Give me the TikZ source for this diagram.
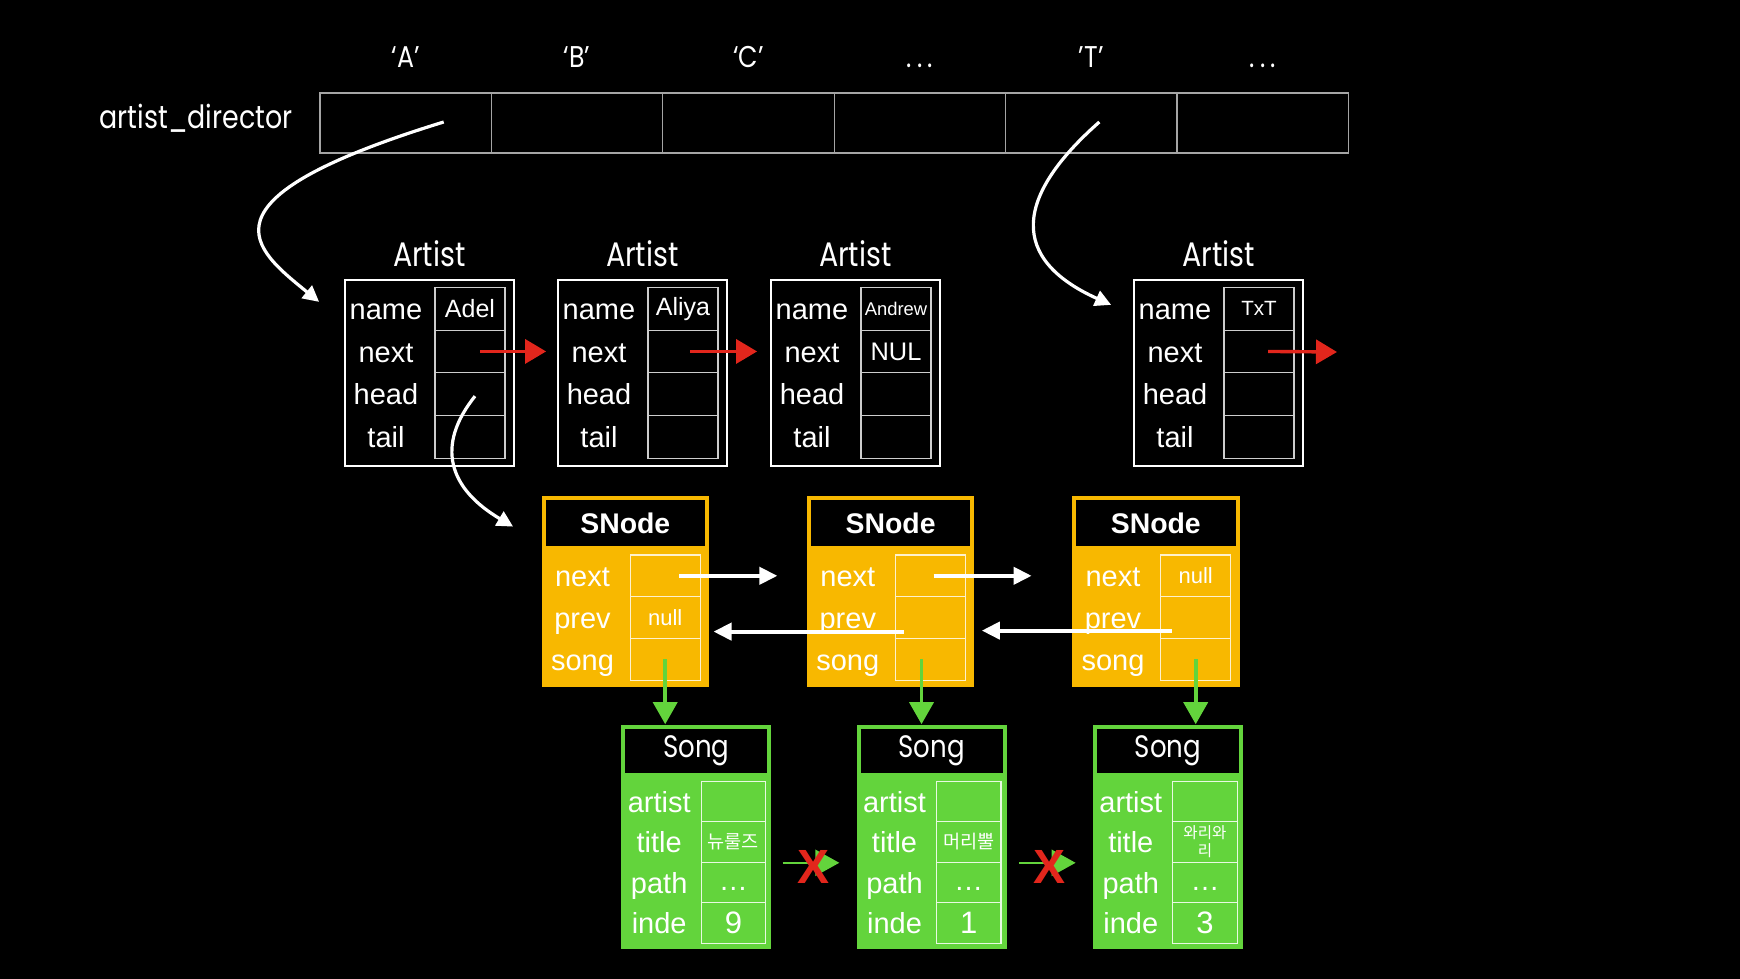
\documentclass[tikz,border=0pt]{standalone}
\usepackage{fontspec}
\setmainfont{Liberation Sans}
\newfontfamily\roundfont[FakeStretch=0.84]{Poppins}
\newfontfamily\korfont{Noto Sans CJK KR}
\usetikzlibrary{arrows.meta,calc}
\definecolor{snyellow}{RGB}{248,184,0}
\definecolor{songgreen}{RGB}{99,212,60}
\definecolor{linkred}{RGB}{226,38,28}
\definecolor{arrgrey}{RGB}{165,165,165}
\definecolor{fieldgrey}{RGB}{205,205,205}

\begin{document}
\begin{tikzpicture}[x=0.5pt,y=-0.5pt,
  acell/.style={draw=arrgrey, line width=0.6pt, minimum width=85.7pt, minimum height=30pt, inner sep=0pt},
  idx/.style={text=white, anchor=base, inner sep=0pt, font=\roundfont\fontsize{15}{15}\selectfont},
  abox/.style={draw=white, line width=0.9pt, minimum width=84.4pt, minimum height=93.25pt, inner sep=0pt},
  afield/.style={draw=fieldgrey, line width=0.6pt, minimum width=35pt, minimum height=21.35pt, inner sep=0pt},
  atitle/.style={text=white, anchor=base, inner sep=0pt, font=\roundfont\fontsize{17}{17}\selectfont},
  flabel/.style={text=white, inner sep=0pt, text height=13.8pt, text depth=3pt, font=\fontsize{14.5}{15}\selectfont},
  fval/.style={text=white, inner sep=0pt},
  snbox/.style={fill=snyellow, minimum width=83.8pt, minimum height=95.45pt, inner sep=0pt},
  sntitle/.style={fill=black, text=white, minimum width=79.8pt, minimum height=23pt, inner sep=0pt, font=\bfseries\fontsize{14.2}{15}\selectfont},
  snfield/.style={draw=white!80!snyellow, line width=0.6pt, minimum width=35pt, minimum height=20.9pt, inner sep=0pt},
  songbox/.style={fill=songgreen, minimum width=74.9pt, minimum height=112.1pt, inner sep=0pt},
  songtitle/.style={fill=black, text=white, minimum width=70.9pt, minimum height=22.45pt, inner sep=0pt, font=\roundfont\fontsize{15.5}{16}\selectfont},
  songfield/.style={draw=white!85!songgreen, line width=0.6pt, minimum width=32.2pt, minimum height=20.25pt, inner sep=0pt},
  kval/.style={text=white, inner sep=0pt, font=\korfont\fontsize{9.3}{10}\selectfont},
  redlink/.style={draw=linkred, line width=1.7pt, -{Triangle[length=10.5pt,width=12pt]}},
  wcurve/.style={draw=white, line width=1.6pt, -{Triangle[length=8pt,width=8pt]}},
  warrow/.style={draw=white, line width=2pt, -{Triangle[length=9pt,width=8.5pt]}},
  garrow/.style={draw=songgreen, line width=1.8pt, -{Triangle[length=11pt,width=12pt]}},
  gsmall/.style={draw=songgreen, line width=1.2pt, -{Triangle[length=12pt,width=13pt]}},
  cross/.style={text=linkred, inner sep=0pt, font=\bfseries\fontsize{24}{24}\selectfont}
]
\fill[black] (0,0) rectangle (1740,979);

% hash table
\node[text=white, anchor=base east, inner sep=0pt, font=\roundfont\fontsize{16}{16}\selectfont] (dirlabel) at (293,129) {artist\_director};
\foreach \lab [count=\i from 0] in {‘A’,‘B’,‘C’,{.\,.\,.},’T’,{.\,.\,.}} {
  \node[acell] (cell\i) at ({405.7+171.4*\i},123) {};
  \node[idx] (idx\i) at ({405.7+171.4*\i},68) {\lab};
}

% artists
\foreach \k/\bx in {1/345, 2/558, 3/771, 4/1134} {
  \node[abox] (art\k) at ({\bx+84.4},373) {};
  \node[atitle] (artt\k) at ({\bx+84.4},266) {Artist};
  \foreach \fname [count=\r from 0] in {name,next,head,tail} {
    \node[afield] (art\k-\r) at ({\bx+125},{308.75+42.7*\r}) {};
    \node[flabel] at ({\bx+41},{308.75+42.7*\r}) {\fname};
  }
}
\node[fval, font=\fontsize{12.5}{13}\selectfont] at (art1-0) {Adel};
\node[fval, font=\fontsize{12.5}{13}\selectfont] at (art2-0) {Aliya};
\node[fval, font=\fontsize{9.2}{10}\selectfont] at (art3-0) {Andrew};
\node[fval, font=\fontsize{12.7}{13}\selectfont] at (art3-1) {NUL};
\node[fval, font=\fontsize{10.3}{11}\selectfont] at (art4-0) {TxT};
\coordinate (art4out) at (1337,352);

\draw[redlink] ($(art1-1.center)+(10,0)$) -- ($(art2.west |- art1-1.center)+(-11,0)$);
\draw[redlink] ($(art2-1.center)+(7,0)$) -- ($(art3.west |- art2-1.center)+(-13,0)$);
\draw[redlink] ($(art4-1.center)+(9,0)$) -- (art4out);

\draw[wcurve] ($(cell0.center)+(38,-1)$) .. controls +(-254,78) and +(-65,-53) .. ($(art1.north west)+(-25,23)$);
\draw[wcurve] ($(cell4.center)+(8,-1)$) .. controls +(-85,75) and +(-102,-46) .. ($(art4.north west)+(-22,26)$);

% song nodes
\foreach \k/\bx in {1/541.5, 2/806.8, 3/1072} {
  \node[snbox] (sn\k) at ({\bx+83.8},591.45) {};
  \node[sntitle] (snt\k) at ({\bx+83.8},523) {SNode};
  \foreach \fname [count=\r from 0] in {next,prev,song} {
    \node[snfield] (sn\k-\r) at ({\bx+123.7},{575.8+41.8*\r}) {};
    \node[flabel] at ({\bx+41},{575.8+41.8*\r}) {\fname};
  }
}
\node[fval, font=\fontsize{11}{12}\selectfont] at (sn1-1) {null};
\node[fval, font=\fontsize{11}{12}\selectfont] at (sn3-0) {null};

\draw[wcurve] ($(art1-2.center)+(5,2)$) .. controls +(-40,50) and +(-64,-38) .. ($(sn1.north west)+(-28,31)$);

\draw[warrow] ($(sn1-0.center)+(14,0)$) -- ($(sn2.west |- sn1-0.center)+(-29,0)$);
\draw[warrow] ($(sn2-0.center)+(3,0)$) -- ($(sn3.west |- sn2-0.center)+(-40,0)$);
\draw[warrow] ($(sn2-1.center)+(-27,14)$) -- ($(sn1.east |- sn2-1.center)+(4,14)$);
\draw[warrow] ($(sn3-1.center)+(-24,13)$) -- ($(sn2.east |- sn3-1.center)+(7,13)$);

% songs
\foreach \k/\bx/\ix in {1/621.4/9, 2/856.7/1, 3/1093/3} {
  \node[songbox] (song\k) at ({\bx+74.9},836.7) {};
  \node[songtitle] (songt\k) at ({\bx+74.9},751) {Song};
  \foreach \fname [count=\r from 0] in {artist,title,path,inde} {
    \node[songfield] (song\k-\r) at ({\bx+112},{801.45+40.5*\r}) {};
    \node[flabel] at ({\bx+37.8},{801.45+40.5*\r}) {\fname};
  }
  \node[fval, font=\fontsize{14.5}{15}\selectfont] at ($(song\k-2.center)+(0,6)$) {…};
  \node[fval, font=\fontsize{15.5}{16}\selectfont] at (song\k-3) {\ix};
}
\node[kval] at (song1-1) {뉴룰즈};
\node[kval] at (song2-1) {머리뿔};
\node[kval, font=\korfont\fontsize{7.8}{9}\selectfont, align=center] at (song3-1) {와리와\\리};

\draw[garrow] (sn1-2.center) -- (sn1-2.center |- song1.north);
\draw[garrow] ($(sn2-2.center)+(-9,0)$) -- ($(sn2-2.center |- song2.north)+(-9,0)$);
\draw[garrow] (sn3-2.center) -- (sn3-2.center |- song3.north);

\draw[gsmall] ($(song1-1.south -| song1.east)+(11,0)$) -- ($(song2.west |- song1-1.south)+(-17,0)$);
\draw[gsmall] ($(song2-1.south -| song2.east)+(12,0)$) -- ($(song3.west |- song2-1.south)+(-17,0)$);
\node[cross] (cross1) at ($(song1-1.south -| song1.east)!0.5!(song2-1.south -| song2.west)+(0,4)$) {X};
\node[cross] (cross2) at ($(song2-1.south -| song2.east)!0.5!(song3-1.south -| song3.west)+(0,4)$) {X};
\end{tikzpicture}
\end{document}
